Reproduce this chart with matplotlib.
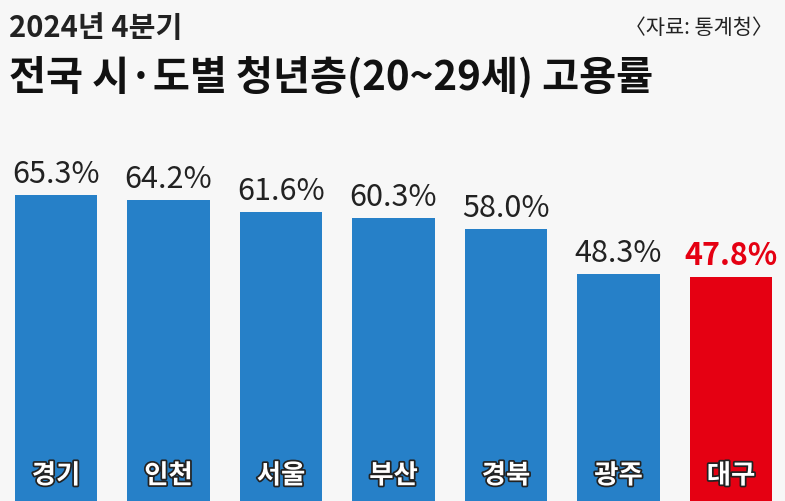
import matplotlib
matplotlib.use("Agg")
import matplotlib.pyplot as plt
import matplotlib.patheffects as pe

plt.rcParams["font.family"] = ["Noto Sans CJK KR", "DejaVu Sans"]

regions = ["경기", "인천", "서울", "부산", "경북", "광주", "대구"]
rates = [65.3, 64.2, 61.6, 60.3, 58.0, 48.3, 47.8]
colors = ["#2680c8"] * 6 + ["#e50012"]

fig = plt.figure(figsize=(7.85, 5.02), dpi=100)
fig.patch.set_facecolor("#f7f7f7")
ax = fig.add_axes([0, 0, 1, 1])
ax.set_facecolor("none")
x = range(len(regions))
ax.bar(x, rates, width=0.73, color=colors)
ax.set_xlim(-0.498, 6.48)
ax.set_ylim(0, 107)
ax.axis("off")

for i, (r, v) in enumerate(zip(regions, rates)):
    last = i == len(regions) - 1
    ax.text(i, v + 1.3, f"{v:.1f}%", ha="center", va="bottom",
            fontsize=22, color="#e50012" if last else "#222222",
            fontweight="bold" if last else "normal")
    ax.text(i, 2.5, r, ha="center", va="bottom", fontsize=19, color="white",
            fontweight="bold",
            path_effects=[pe.withStroke(linewidth=2.5, foreground="#222222")])

fig.text(0.012, 0.945, "2024년 4분기", fontsize=21, fontweight="bold",
         color="#222222", va="center")
fig.text(0.985, 0.945, "〈자료: 통계청〉", fontsize=15, color="#222222",
         va="center", ha="right")
fig.text(0.012, 0.845, "전국 시·도별 청년층(20~29세) 고용률", fontsize=29,
         fontweight="bold", color="#111111", va="center")

fig.savefig("out.png", dpi=100, facecolor=fig.get_facecolor())
